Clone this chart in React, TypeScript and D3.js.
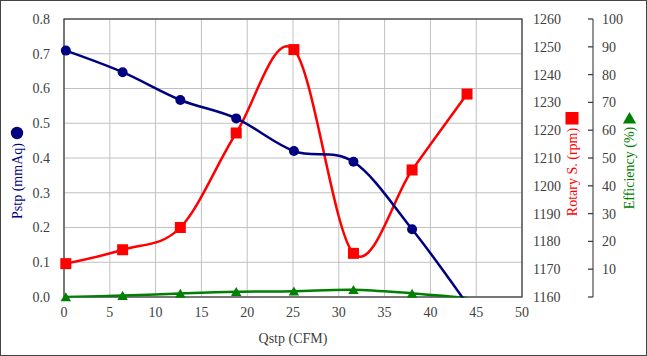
import React from "react";
import * as d3 from "d3";

const qstp = [0.2, 6.4, 12.7, 18.8, 25.1, 31.6, 38.0, 44.0];
const pstp = [0.709, 0.647, 0.567, 0.514, 0.42, 0.389, 0.195, -0.02];
const rotary = [1172, 1177, 1185, 1219, 1249, 1175.7, 1205.7, 1233];
const efficiency = [0, 0.5, 1.3, 1.9, 2.1, 2.6, 1.3, -0.3];

const xTicks = [0, 5, 10, 15, 20, 25, 30, 35, 40, 45, 50];
const pTicks = [0, 0.1, 0.2, 0.3, 0.4, 0.5, 0.6, 0.7, 0.8];
const rTicks = [1160, 1170, 1180, 1190, 1200, 1210, 1220, 1230, 1240, 1250, 1260];
const eTicks = [0, 10, 20, 30, 40, 50, 60, 70, 80, 90, 100];

const W = 647, H = 356;
const L = 64, R = 522, T = 19, B = 297;
const E_AXIS = 593;

export default function App() {
  const x = d3.scaleLinear().domain([0, 50]).range([L, R]);
  const yP = d3.scaleLinear().domain([0, 0.8]).range([B, T]);
  const yR = d3.scaleLinear().domain([1160, 1260]).range([B, T]);
  const yE = d3.scaleLinear().domain([0, 100]).range([B, T]);

  const curve = d3.curveCardinal.tension(0);
  const lineP = d3.line<number>().x((_, i) => x(qstp[i])).y((d) => yP(d)).curve(curve);
  const lineR = d3.line<number>().x((_, i) => x(qstp[i])).y((d) => yR(d)).curve(curve);
  const lineE = d3.line<number>().x((_, i) => x(qstp[i])).y((d) => yE(d)).curve(curve);

  const font = "'Liberation Serif', 'Times New Roman', serif";
  const tickColor = "#404040";
  const navy = "#000080";
  const red = "#ff0000";
  const green = "#008000";

  const tri = (cx: number, cy: number, s: number) =>
    `M${cx},${cy - s * 0.5}L${cx + s * 0.55},${cy + s * 0.45}L${cx - s * 0.55},${cy + s * 0.45}Z`;

  return (
    <div style={{ position: "fixed", left: 0, top: 0 }}>
      <svg width={W} height={H} style={{ display: "block", fontFamily: font }}>
        <defs>
          <clipPath id="plotClip">
            <rect x={L} y={T - 10} width={R - L} height={B - T + 10.5} />
          </clipPath>
        </defs>
        <rect x={0.5} y={0.5} width={W - 1} height={H - 1} fill="#fff" stroke="#444" strokeWidth={1} />

        {/* grid */}
        {xTicks.map((t) => (
          <line key={"gx" + t} x1={x(t)} x2={x(t)} y1={T} y2={B} stroke="#c0c0c0" strokeWidth={1} />
        ))}
        {pTicks.map((t) => (
          <line key={"gy" + t} x1={L} x2={R} y1={yP(t)} y2={yP(t)} stroke="#c0c0c0" strokeWidth={1} />
        ))}
        <rect x={L} y={T} width={R - L} height={B - T} fill="none" stroke="#404040" strokeWidth={1.3} />

        {/* left tick labels */}
        {pTicks.map((t) => (
          <text key={"pl" + t} x={L - 14} y={yP(t)} dy="0.35em" textAnchor="end" fontSize={14} fill={tickColor}>
            {t.toFixed(1)}
          </text>
        ))}
        {/* bottom tick labels */}
        {xTicks.map((t) => (
          <text key={"xl" + t} x={x(t)} y={B + 15} dy="0.35em" textAnchor="middle" fontSize={14} fill={tickColor}>
            {t}
          </text>
        ))}
        {/* rpm tick labels */}
        {rTicks.map((t) => (
          <text key={"rl" + t} x={R + 11} y={yR(t)} dy="0.35em" textAnchor="start" fontSize={14} fill={tickColor}>
            {t}
          </text>
        ))}
        {/* efficiency axis */}
        <line x1={E_AXIS} x2={E_AXIS} y1={yE(100)} y2={yE(0)} stroke="#595959" strokeWidth={1.3} />
        {eTicks.map((t) => (
          <g key={"el" + t}>
            <line x1={E_AXIS - 5} x2={E_AXIS} y1={yE(t)} y2={yE(t)} stroke="#404040" strokeWidth={1.3} />
            {t > 0 && (
              <text x={E_AXIS + 9} y={yE(t)} dy="0.35em" textAnchor="start" fontSize={14} fill={tickColor}>
                {t}
              </text>
            )}
          </g>
        ))}

        {/* series */}
        <g clipPath="url(#plotClip)">
          <path d={lineR(rotary) || ""} fill="none" stroke={red} strokeWidth={2.5} />
          <path d={lineE(efficiency) || ""} fill="none" stroke={green} strokeWidth={2.5} />
          <path d={lineP(pstp) || ""} fill="none" stroke={navy} strokeWidth={2.5} />
        </g>
        {rotary.map((v, i) => (
          <rect key={"rm" + i} x={x(qstp[i]) - 5.5} y={yR(v) - 5.5} width={11} height={11} fill={red} />
        ))}
        {efficiency.map((v, i) =>
          v >= 0 ? <path key={"em" + i} d={tri(x(qstp[i]), yE(v), 9.5)} fill={green} /> : null
        )}
        {pstp.map((v, i) =>
          v >= 0 ? <circle key={"pm" + i} cx={x(qstp[i])} cy={yP(v)} r={5} fill={navy} /> : null
        )}

        {/* axis titles */}
        <text x={(L + R) / 2} y={338} dy="0.35em" textAnchor="middle" fontSize={14} fill={tickColor}>
          Qstp (CFM)
        </text>
        <text transform="translate(17,181) rotate(-90)" dy="0.35em" textAnchor="middle" fontSize={14} fill={navy}>
          Pstp (mmAq)
        </text>
        <circle cx={17} cy={133} r={6.2} fill={navy} />

        <text transform="translate(572,172) rotate(-90)" dy="0.35em" textAnchor="middle" fontSize={14} fill={red}>
          Rotary S. (rpm)
        </text>
        <rect x={565.5} y={112} width={13} height={12.5} fill={red} />

        <text transform="translate(629,168) rotate(-90)" dy="0.35em" textAnchor="middle" fontSize={14} fill={green}>
          Efficiency (%)
        </text>
        <path d={tri(629.5, 118, 12)} fill={green} />
      </svg>
    </div>
  );
}
